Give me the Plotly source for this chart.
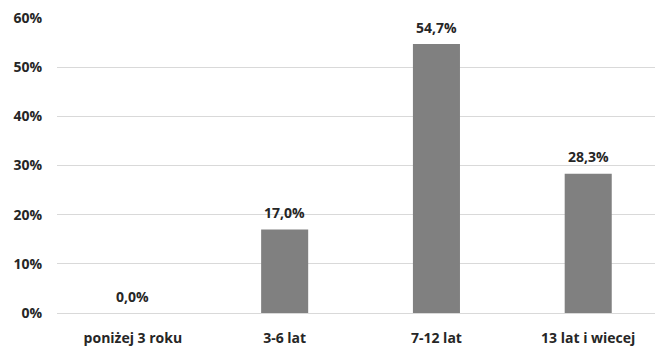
import plotly.graph_objects as go

categories = ["poniżej 3 roku", "3-6 lat", "7-12 lat", "13 lat i wiecej"]
values = [0.0, 0.170, 0.547, 0.283]
y_ticks = [0, 0.1, 0.2, 0.3, 0.4, 0.5, 0.6]

font_family = "'Open Sans', Lato, sans-serif"
text_color = "#262626"
fsize = 14

fig = go.Figure(go.Bar(
    x=categories,
    y=values,
    marker=dict(color="#808080", line=dict(width=0)),
    hoverinfo="x+y",
))

for c, v in zip(categories, values):
    fig.add_annotation(
        x=c, y=v, xref="x", yref="y",
        text=f"{v * 100:.1f}%".replace(".", ","),
        showarrow=False, yanchor="middle", yshift=17,
        font=dict(family=font_family, size=fsize, color=text_color, weight="bold"),
    )

fig.update_layout(
    width=655, height=346,
    margin=dict(l=57, r=0, t=18, b=33),
    paper_bgcolor="white", plot_bgcolor="white",
    separators=",.",
    bargap=0.69,
    showlegend=False,
    font=dict(family=font_family, size=fsize, color=text_color, weight="bold"),
)
fig.update_xaxes(
    range=[-0.5, 3.44],
    showgrid=False, showline=False, zeroline=False,
    ticks="", tickfont=dict(size=fsize, weight="bold"),
    ticklabelstandoff=15,
)
fig.update_yaxes(
    range=[0, 0.6],
    tickvals=y_ticks, tickformat=".0%",
    showgrid=True, gridcolor="#d9d9d9", gridwidth=1,
    zeroline=True, zerolinecolor="#d9d9d9", zerolinewidth=1,
    showline=False, ticks="",
    tickfont=dict(size=fsize, weight="bold"),
    ticklabelstandoff=14,
)

fig.write_html("out.html")
